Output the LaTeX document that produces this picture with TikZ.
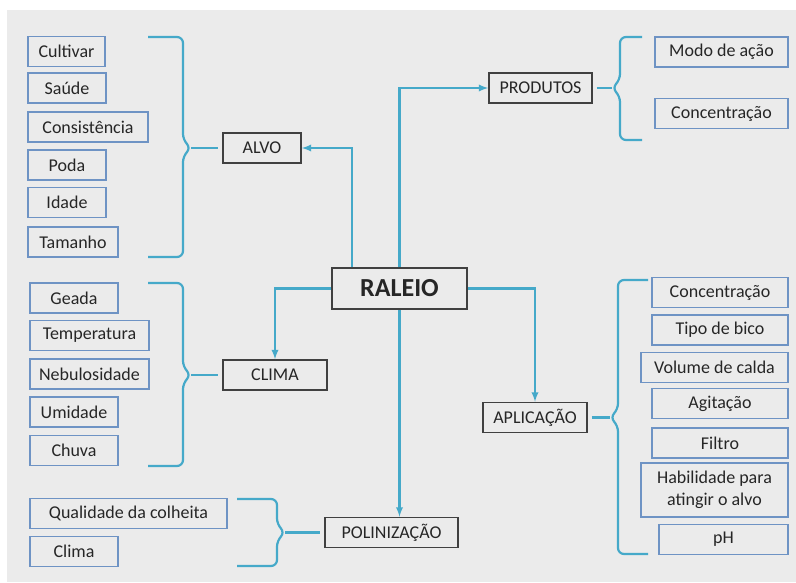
\documentclass[tikz,border=0pt]{standalone}
\usepackage{fontspec}
\setmainfont{Carlito}
\usepackage{xcolor}
\usetikzlibrary{shapes,arrows}
\usetikzlibrary{positioning}

\definecolor{linkblue}{HTML}{45A9C9}
\definecolor{itemblue}{HTML}{6E93C4}
\definecolor{paper}{HTML}{EBEBEB}

\begin{document}
\begin{tikzpicture}[x=1pt,y=-1pt,
  every node/.style={inner sep=0pt,align=center,text=black!85,
    font=\fontsize{18}{22}\selectfont},
  topic/.style={draw=black!75,line width=1.5pt,fill=paper,minimum height=30pt},
  item/.style={draw=itemblue,line width=1.4pt,fill=paper,minimum height=30pt},
  link/.style={draw=linkblue,line width=2.2pt,-latex},
  brace/.style={draw=linkblue,line width=2.2pt,rounded corners=6pt}]

  % page
  \useasboundingbox (0,0) rectangle (796,582);
  \fill[paper] (7,10) rectangle (796,582);

  % centre
  \node[topic,minimum width=135pt,minimum height=41pt,
    font=\fontsize{26}{28}\selectfont\bfseries] (raleio) at (399.5,288.5) {RALEIO};

  % topics
  \node[topic,minimum width=78pt]  (alvo)     at (262,148)     {ALVO};
  \node[topic,minimum width=103pt] (produtos) at (540.5,88)    {PRODUTOS};
  \node[topic,minimum width=104pt] (clima)    at (275,375)     {CLIMA};
  \node[topic,minimum width=104pt] (aplic)    at (535,417.5)   {APLICAÇÃO};
  \node[topic,minimum width=133pt] (polin)    at (391.5,532.5) {POLINIZAÇÃO};

  \draw[link] ([xshift=-47.5pt]raleio.north) |- (alvo.east);
  \draw[link] (raleio.north) |- (produtos.west);
  \draw[link] (raleio.west) -| (clima.north);
  \draw[link] (raleio.east) -| (aplic.north);
  \draw[link] (raleio.south) -- (raleio.south |- polin.north);

  % alvo
  \node[item,minimum width=77pt]  (cultivar) at (66.5,51.5) {Cultivar};
  \node[item,minimum width=78pt]  (saude)    at (67,88)     {Saúde};
  \node[item,minimum width=120pt] (consist)  at (88,127)    {Consistência};
  \node[item,minimum width=78pt]  (poda)     at (67,165)    {Poda};
  \node[item,minimum width=78pt]  (idade)    at (67,202.5)  {Idade};
  \node[item,minimum width=90pt]  (tamanho)  at (73,242)    {Tamanho};
  \coordinate (alvotip) at (191,148);
  \draw[brace] (148,37) -| (183,140) -- (alvotip) -- (183,156) |- (148,257);
  \draw[brace] (alvotip) -- ([xshift=-4pt]alvo.west);

  % clima
  \node[item,minimum width=88pt]  (geada) at (74,298)    {Geada};
  \node[item,minimum width=119pt] (temp)  at (89.5,335.5) {Temperatura};
  \node[item,minimum width=119pt] (nebul) at (89.5,374)  {Nebulosidade};
  \node[item,minimum width=88pt]  (umid)  at (74,412)    {Umidade};
  \node[item,minimum width=88pt]  (chuva) at (74,450.5)  {Chuva};
  \coordinate (climatip) at (191,375);
  \draw[brace] (148,283) -| (183,367) -- (climatip) -- (183,383) |- (148,466);
  \draw[brace] (climatip) -- ([xshift=-4pt]clima.west);

  % polinizacao
  \node[item,minimum width=197pt] (qualid) at (128.5,513.5) {Qualidade da colheita};
  \node[item,minimum width=88pt]  (clim)   at (74,551.5)    {Clima};
  \coordinate (polintip) at (285,532.5);
  \draw[brace] (237,499) -| (277,524.5) -- (polintip) -- (277,540.5) |- (237,566);
  \draw[brace] (polintip) -- ([xshift=-4pt]polin.west);

  % produtos
  \node[item,minimum width=133pt] (modo)  at (721.5,52)   {Modo de ação};
  \node[item,minimum width=133pt] (concp) at (721.5,113.5) {Concentração};
  \coordinate (prodtip) at (612,88);
  \draw[brace] (642,37) -| (620,80) -- (prodtip) -- (620,96) |- (642,140);
  \draw[brace] ([xshift=4pt]produtos.east) -- (prodtip);

  % aplicacao
  \node[item,minimum width=136pt] (conca)  at (720,292.5)  {Concentração};
  \node[item,minimum width=136pt] (tipo)   at (720,330)    {Tipo de bico};
  \node[item,minimum width=147pt] (volume) at (714.5,367.5) {Volume de calda};
  \node[item,minimum width=136pt] (agit)   at (720,403.5)  {Agitação};
  \node[item,minimum width=136pt] (filtro) at (720,443)    {Filtro};
  \node[item,minimum width=147pt,minimum height=54pt] (habil) at (714.5,490)
    {Habilidade para\\atingir o alvo};
  \node[item,minimum width=129pt] (ph)     at (723.5,539.5) {pH};
  \coordinate (aplictip) at (610,417.5);
  \draw[brace] (648,280) -| (618,409.5) -- (aplictip) -- (618,425.5) |- (648,554);
  \draw[brace] ([xshift=4pt]aplic.east) -- (aplictip);
\end{tikzpicture}
\end{document}
